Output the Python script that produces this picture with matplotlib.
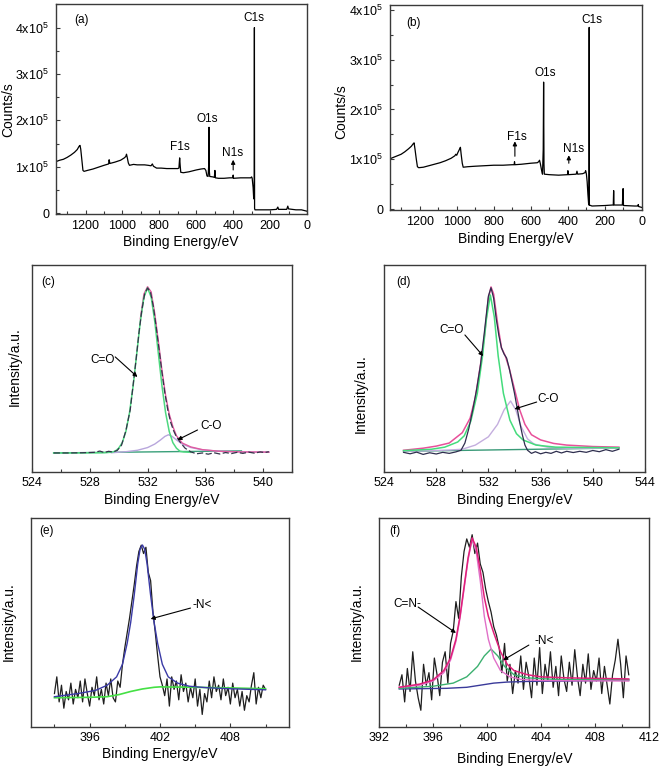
import numpy as np
import matplotlib
matplotlib.use("Agg")
import matplotlib.pyplot as plt
from matplotlib.ticker import MultipleLocator

plt.rcParams['font.family'] = ['Liberation Sans', 'DejaVu Sans']
plt.rcParams['mathtext.default'] = 'regular'

# ---------------- survey spectra (counts in units of 1e5) ----------------
surv_a_eV = [1360, 1340, 1320, 1300, 1280, 1260, 1245, 1235, 1230, 1226, 1220, 1214, 1208, 1190, 1160,
             1130, 1100, 1075, 1072, 1068, 1040, 1010, 990, 982, 978, 974, 968, 962, 940, 920, 900,
             880, 860, 845, 838, 832, 815, 790, 760, 730, 700, 694, 690, 687, 684, 670, 640, 600,
             575, 555, 548, 542, 536, 533, 531, 529, 527, 510, 502, 499, 496, 480, 450, 420, 402,
             400, 398, 360, 330, 305, 300, 297, 292, 289, 286, 285, 284, 282, 250, 200, 165, 158,
             154, 110, 104, 100, 60, 30, 10, 0]
surv_a_cnt = [1.11, 1.14, 1.16, 1.20, 1.25, 1.31, 1.37, 1.44, 1.46, 1.38, 1.15, 0.92, 0.90, 0.92, 0.95,
              0.99, 1.03, 1.06, 1.15, 1.07, 1.10, 1.14, 1.19, 1.22, 1.27, 1.20, 1.08, 1.03, 1.05, 1.04, 1.04,
              1.04, 1.03, 1.02, 1.06, 1.01, 0.97, 0.97, 0.96, 0.96, 0.96, 0.97, 1.19, 1.02, 0.88, 0.87, 0.89, 0.93,
              0.95, 0.96, 0.92, 0.80, 0.79, 1.00, 1.85, 0.90, 0.79, 0.78, 0.77, 0.92, 0.76, 0.75, 0.75, 0.76, 0.76,
              0.82, 0.75, 0.76, 0.76, 0.76, 0.78, 0.75, 0.55, 0.33, 0.30, 4.00, 0.10, 0.07, 0.07, 0.07, 0.08, 0.13,
              0.08, 0.08, 0.15, 0.09, 0.07, 0.07, 0.05, 0.04]

surv_b_eV = [1360, 1340, 1320, 1300, 1280, 1260, 1245, 1235, 1230, 1225, 1218, 1212, 1205, 1180, 1150,
             1120, 1090, 1060, 1030, 1010, 1005, 1000, 993, 985, 980, 976, 970, 965, 940, 900, 850,
             800, 750, 700, 690, 688, 686, 650, 600, 565, 558, 553, 548, 542, 537, 533, 531, 529,
             527, 500, 450, 402, 400, 398, 355, 351, 347, 320, 308, 304, 300, 296, 292, 288, 286,
             285, 284, 270, 200, 160, 155, 153, 151, 106, 102, 100, 40, 22, 20, 18, 0]
surv_b_cnt = [1.01, 1.04, 1.07, 1.10, 1.15, 1.21, 1.26, 1.31, 1.33, 1.20, 1.00, 0.85, 0.83, 0.84, 0.87,
              0.90, 0.93, 0.97, 1.02, 1.07, 1.10, 1.08, 1.14, 1.20, 1.24, 1.10, 0.92, 0.84, 0.85, 0.86, 0.87,
              0.88, 0.88, 0.89, 0.89, 0.95, 0.89, 0.90, 0.92, 0.93, 0.95, 0.98, 0.90, 0.78, 0.70, 1.20, 2.55, 0.90,
              0.70, 0.69, 0.68, 0.69, 0.77, 0.69, 0.70, 0.76, 0.70, 0.71, 0.73, 0.77, 0.70, 0.55, 0.30, 0.10, 0.08,
              3.65, 0.08, 0.06, 0.07, 0.08, 0.08, 0.37, 0.08, 0.08, 0.41, 0.07, 0.06, 0.06, 0.09, 0.05, 0.03]

survey_ticks = [0, 1, 2, 3, 4]
survey_ticklabels = ['0', '1x10$^5$', '2x10$^5$', '3x10$^5$', '4x10$^5$']

# ---------------- (c) O1s, sample 1 ----------------
c_data_x = [525.5, 526.5, 527.5, 528.3, 528.7, 529.0, 529.3, 529.6, 529.9, 530.2,
            530.5, 530.8, 531.0, 531.2, 531.4, 531.6, 531.8, 532.0, 532.2, 532.4,
            532.6, 532.8, 533.0, 533.2, 533.4, 533.6, 533.8, 534.0, 534.3, 534.6,
            535.0, 535.4, 535.8, 536.2, 536.6, 537.0, 537.4, 537.8, 538.2, 538.6,
            539.0, 539.4, 539.8, 540.1, 540.4]
c_data_y = [0.092, 0.092, 0.093, 0.095, 0.101, 0.094, 0.100, 0.097, 0.104, 0.13,
            0.20, 0.30, 0.42, 0.54, 0.67, 0.78, 0.86, 0.889, 0.87, 0.80,
            0.70, 0.59, 0.48, 0.38, 0.30, 0.24, 0.20, 0.17, 0.14, 0.115,
            0.097, 0.088, 0.092, 0.086, 0.093, 0.087, 0.094, 0.089, 0.095, 0.09,
            0.096, 0.091, 0.097, 0.094, 0.098]
c_co_x = [525.5, 529.0, 529.5, 529.75, 530.0, 530.25, 530.5, 530.75, 531.0, 531.25, 531.5, 531.75, 532.0,
          532.25, 532.5, 532.75, 533.0, 533.25, 533.5, 533.75, 534.0, 534.25, 534.5, 535.0]
c_co_y = [0.092, 0.093, 0.096, 0.100, 0.115, 0.142, 0.196, 0.286, 0.415, 0.571, 0.727, 0.845, 0.889,
          0.845, 0.727, 0.571, 0.415, 0.286, 0.196, 0.142, 0.115, 0.100, 0.097, 0.095]
c_c_o_x = [529.5, 530.5, 531.3, 532.0, 532.5, 532.9, 533.2, 533.45, 533.7, 534.0, 534.4, 535.0, 535.8, 537.0, 538.5, 540.4]
c_c_o_y = [0.093, 0.098, 0.105, 0.118, 0.135, 0.155, 0.172, 0.180, 0.172, 0.155, 0.135, 0.118, 0.107, 0.100, 0.097, 0.096]
c_env_x = [531.5, 531.75, 532.0, 532.25, 532.5, 532.75, 533.0, 533.25, 533.5, 533.75, 534.0, 534.4, 535.0, 535.8, 537.0, 538.5, 540.4]
c_env_y = [0.74, 0.86, 0.895, 0.87, 0.765, 0.63, 0.49, 0.37, 0.28, 0.22, 0.175, 0.14, 0.121, 0.108, 0.100, 0.097, 0.096]
c_base_x = [525.5, 538.5]
c_base_y = [0.092, 0.102]

# ---------------- (d) O1s, sample 2 ----------------
d_data_x = [525.5, 526.0, 526.5, 527.0, 527.5, 528.0, 528.5, 529.0, 529.5, 529.9,
            530.2, 530.5, 530.8, 531.1, 531.4, 531.7, 532.0, 532.2, 532.4, 532.6,
            532.8, 533.0, 533.2, 533.4, 533.6, 533.8, 534.0, 534.2, 534.4, 534.6,
            534.8, 535.0, 535.3, 535.6, 536.0, 536.4, 536.8, 537.2, 537.6, 538.0,
            538.5, 539.0, 539.5, 540.0, 540.5, 541.0, 541.5, 542.0]
d_data_y = [0.095, 0.088, 0.096, 0.085, 0.093, 0.087, 0.095, 0.090, 0.097, 0.105,
            0.14, 0.21, 0.30, 0.40, 0.52, 0.68, 0.85, 0.89, 0.84, 0.74,
            0.66, 0.60, 0.57, 0.55, 0.50, 0.44, 0.38, 0.31, 0.24, 0.18,
            0.13, 0.105, 0.090, 0.098, 0.088, 0.095, 0.090, 0.100, 0.092, 0.100,
            0.094, 0.100, 0.095, 0.104, 0.098, 0.108, 0.100, 0.110]
d_co_x = [525.5, 527.65, 528.65, 529.65, 530.15, 530.65, 531.15, 531.55, 531.85, 532.15,
          532.45, 532.75, 533.15, 533.65, 534.15, 534.65, 535.65, 537.15, 542.0]
d_co_y = [0.103, 0.110, 0.120, 0.145, 0.175, 0.245, 0.38, 0.56, 0.74, 0.855,
          0.75, 0.56, 0.38, 0.25, 0.185, 0.155, 0.13, 0.12, 0.117]
d_c_o_x = [525.5, 528.0, 529.0, 530.0, 531.0, 532.0, 532.7, 533.2, 533.7, 534.1, 534.5, 535.0, 535.5, 536.5, 538.0, 542.0]
d_c_o_y = [0.100, 0.104, 0.106, 0.110, 0.130, 0.170, 0.230, 0.300, 0.343, 0.300, 0.220, 0.160, 0.135, 0.120, 0.115, 0.115]
d_env_x = [525.5, 527.0, 528.0, 529.0, 530.0, 530.6, 531.0, 531.4, 531.7, 532.0, 532.2, 532.4, 532.7,
           533.0, 533.3, 533.6, 534.0, 534.4, 534.8, 535.3, 536.0, 537.0, 538.0, 540.0, 542.0]
d_env_y = [0.105, 0.115, 0.125, 0.140, 0.190, 0.260, 0.360, 0.520, 0.660, 0.840, 0.894, 0.860, 0.720,
           0.600, 0.560, 0.500, 0.400, 0.300, 0.230, 0.180, 0.155, 0.138, 0.130, 0.123, 0.120]
d_base_x = [525.5, 542.0]
d_base_y = [0.100, 0.116]

# ---------------- (e) N1s, sample 1 ----------------
e_range = (393.0, 411.0)
e_data_y = [0.16, 0.24, 0.12, 0.20, 0.09, 0.17, 0.13, 0.21, 0.11, 0.18,
            0.14, 0.22, 0.12, 0.23, 0.16, 0.10, 0.19, 0.15, 0.24, 0.13,
            0.18, 0.11, 0.21, 0.15, 0.23, 0.14, 0.12, 0.22, 0.19, 0.30,
            0.38, 0.45, 0.52, 0.60, 0.68, 0.77, 0.84, 0.87, 0.83, 0.86,
            0.74, 0.70, 0.55, 0.45, 0.34, 0.24, 0.20, 0.15, 0.23, 0.10,
            0.24, 0.18, 0.22, 0.13, 0.25, 0.17, 0.21, 0.12, 0.19, 0.14,
            0.23, 0.10, 0.18, 0.06, 0.16, 0.12, 0.22, 0.14, 0.24, 0.17,
            0.20, 0.13, 0.23, 0.15, 0.19, 0.11, 0.21, 0.14, 0.18, 0.10,
            0.17, 0.08, 0.15, 0.12, 0.20, 0.26, 0.11, 0.19, 0.14, 0.20, 0.18]
e_fit_x = [393.0, 395.0, 396.5, 397.5, 398.3, 398.8, 399.2, 399.5, 399.8, 400.1, 400.3, 400.5,
           400.7, 400.9, 401.2, 401.5, 401.8, 402.2, 402.7, 403.5, 404.5, 406.0, 408.0, 411.0]
e_fit_y = [0.145, 0.160, 0.175, 0.200, 0.240, 0.300, 0.400, 0.500, 0.630, 0.780, 0.850, 0.871,
           0.850, 0.780, 0.630, 0.500, 0.400, 0.300, 0.240, 0.210, 0.195, 0.188, 0.183, 0.178]
e_base_x = [393.0, 396.0, 397.5, 398.5, 399.5, 400.5, 401.5, 402.0, 405.0, 408.0, 411.0]
e_base_y = [0.140, 0.142, 0.145, 0.155, 0.170, 0.182, 0.190, 0.192, 0.190, 0.187, 0.183]

# ---------------- (f) N1s, sample 2 ----------------
f_range = (393.5, 410.5)
f_data_y = [0.20, 0.25, 0.12, 0.28, 0.17, 0.36, 0.22, 0.14, 0.08, 0.30,
            0.20, 0.26, 0.13, 0.33, 0.25, 0.15, 0.31, 0.36, 0.21, 0.40,
            0.46, 0.60, 0.52, 0.72, 0.84, 0.90, 0.86, 0.92, 0.83, 0.88,
            0.78, 0.74, 0.66, 0.60, 0.55, 0.48, 0.44, 0.38, 0.26, 0.40,
            0.22, 0.30, 0.16, 0.27, 0.21, 0.34, 0.18, 0.31, 0.24, 0.14,
            0.33, 0.20, 0.38, 0.16, 0.30, 0.22, 0.36, 0.19, 0.29, 0.15,
            0.34, 0.23, 0.17, 0.31, 0.20, 0.37, 0.24, 0.15, 0.30, 0.21,
            0.35, 0.18, 0.27, 0.22, 0.33, 0.16, 0.29, 0.20, 0.11, 0.25,
            0.32, 0.42, 0.30, 0.14, 0.34, 0.25]
f_cn_x = [393.5, 395.0, 396.0, 396.8, 397.3, 397.7, 398.0, 398.3, 398.6, 398.9, 399.2, 399.5,
          399.8, 400.1, 400.5, 401.0, 401.7, 402.5, 404.0, 410.5]
f_cn_y = [0.190, 0.200, 0.220, 0.260, 0.320, 0.410, 0.520, 0.660, 0.800, 0.900, 0.840, 0.700,
          0.530, 0.420, 0.330, 0.270, 0.240, 0.228, 0.222, 0.220]
f_env_x = [393.5, 395.0, 396.0, 396.8, 397.3, 397.7, 398.0, 398.3, 398.6, 398.9, 399.2, 399.5,
           399.8, 400.1, 400.5, 401.0, 401.5, 402.0, 403.0, 404.0, 406.0, 410.5]
f_env_y = [0.190, 0.205, 0.225, 0.270, 0.330, 0.420, 0.530, 0.670, 0.810, 0.905, 0.860, 0.750,
           0.620, 0.530, 0.450, 0.360, 0.300, 0.270, 0.250, 0.240, 0.235, 0.230]
f_n_x = [393.5, 396.0, 397.5, 398.5, 399.3, 399.8, 400.3, 400.8, 401.3, 402.0, 403.0, 405.0, 410.5]
f_n_y = [0.185, 0.195, 0.210, 0.240, 0.290, 0.340, 0.373, 0.340, 0.290, 0.250, 0.235, 0.228, 0.225]
f_base_x = [393.5, 397.0, 398.5, 399.5, 400.5, 401.5, 403.0, 406.0, 410.5]
f_base_y = [0.182, 0.185, 0.190, 0.200, 0.210, 0.215, 0.218, 0.220, 0.225]

# ---------------- figure ----------------
W, H = 661, 768
fig = plt.figure(figsize=(W / 100, H / 100), dpi=100)


def add_ax(left, right, top, bottom):
    return fig.add_axes([left / W, 1 - bottom / H, (right - left) / W, (bottom - top) / H])


def style(ax, xpad=3.5):
    for s in ax.spines.values():
        s.set_linewidth(1.0)
        s.set_color('#3a3a3a')
    ax.tick_params(which='both', direction='in', top=False, right=False, labelsize=9,
                   color='#3a3a3a', width=0.8)
    ax.tick_params(axis='x', which='both', pad=xpad)
    ax.tick_params(axis='y', which='both', pad=5)
    ax.tick_params(which='major', length=3)
    ax.tick_params(which='minor', length=2)


def ftext(x, y, s, size=10, rot=0):
    fig.text(x / W, 1 - y / H, s, fontsize=size, rotation=rot, ha='center', va='center')


arrow_kw = dict(arrowstyle='-|>', color='black', lw=0.8, mutation_scale=6, shrinkA=0, shrinkB=0)
LS = 8.5

# (a)
ax = add_ax(56, 307, 4, 214)
style(ax, xpad=4)
ax.plot(surv_a_eV, surv_a_cnt, color='black', lw=0.9)
ax.set_xlim(1360, 0)
ax.set_ylim(-0.02, 4.51)
ax.xaxis.set_major_locator(MultipleLocator(200))
ax.xaxis.set_minor_locator(MultipleLocator(100))
ax.set_yticks(survey_ticks)
ax.set_yticklabels(survey_ticklabels)
ax.yaxis.set_minor_locator(MultipleLocator(0.5))
ax.text(1221, 4.17, '(a)', fontsize=LS, ha='center', va='center')
ax.text(289, 4.21, 'C1s', fontsize=LS, ha='center', va='center')
ax.text(540, 2.03, 'O1s', fontsize=LS, ha='center', va='center')
ax.text(687, 1.43, 'F1s', fontsize=LS, ha='center', va='center')
ax.text(403, 1.30, 'N1s', fontsize=LS, ha='center', va='center')
ax.annotate('', xy=(400, 1.15), xytext=(400, 0.93), arrowprops=arrow_kw)
ftext(8, 110, 'Counts/s', rot=90)
ftext(181, 242, 'Binding Energy/eV')

# (b)
ax = add_ax(390, 642, 5, 210)
style(ax, xpad=4)
ax.plot(surv_b_eV, surv_b_cnt, color='black', lw=0.9)
ax.set_xlim(1360, 0)
ax.set_ylim(-0.02, 4.1)
ax.xaxis.set_major_locator(MultipleLocator(200))
ax.xaxis.set_minor_locator(MultipleLocator(100))
ax.set_yticks(survey_ticks)
ax.set_yticklabels(survey_ticklabels)
ax.yaxis.set_minor_locator(MultipleLocator(0.5))
ax.text(1232, 3.74, '(b)', fontsize=LS, ha='center', va='center')
ax.text(272, 3.80, 'C1s', fontsize=LS, ha='center', va='center')
ax.text(524, 2.74, 'O1s', fontsize=LS, ha='center', va='center')
ax.text(676, 1.44, 'F1s', fontsize=LS, ha='center', va='center')
ax.text(368, 1.20, 'N1s', fontsize=LS, ha='center', va='center')
ax.annotate('', xy=(686, 1.36), xytext=(686, 1.06), arrowprops=arrow_kw)
ax.annotate('', xy=(395, 1.08), xytext=(395, 0.92), arrowprops=arrow_kw)
ftext(341, 112, 'Counts/s', rot=90)
ftext(516, 239, 'Binding Energy/eV')

# (c)
ax = add_ax(32, 292, 265, 472)
style(ax)
ax.plot(c_base_x, c_base_y, color='#3aa07a', lw=1.0)
ax.plot(c_c_o_x, c_c_o_y, color='#b8a6dc', lw=1.0)
ax.plot(c_env_x, c_env_y, color='#e05aa0', lw=1.0)
ax.plot(c_co_x, c_co_y, color='#4ed880', lw=1.1)
ax.plot(c_data_x, c_data_y, color='#33334a', lw=0.9, ls=(0, (5, 2)))
ax.set_xlim(524, 542)
ax.set_ylim(0, 1)
ax.xaxis.set_major_locator(MultipleLocator(4))
ax.xaxis.set_minor_locator(MultipleLocator(2))
ax.set_yticks([])
ax.text(525.1, 0.918, '(c)', fontsize=LS, ha='center', va='center')
ax.text(528.9, 0.541, 'C=O', fontsize=LS, ha='center', va='center')
ax.annotate('', xy=(531.3, 0.459), xytext=(529.76, 0.556), arrowprops=arrow_kw)
ax.text(536.4, 0.222, 'C-O', fontsize=LS, ha='center', va='center')
ax.annotate('', xy=(534.07, 0.155), xytext=(535.46, 0.203), arrowprops=arrow_kw)
ftext(15, 367, 'Intensity/a.u.', rot=90)
ftext(162, 500, 'Binding Energy/eV')

# (d)
ax = add_ax(384, 645, 265, 472)
style(ax)
ax.plot(d_base_x, d_base_y, color='#3a9a78', lw=1.0)
ax.plot(d_c_o_x, d_c_o_y, color='#c4aede', lw=1.0)
ax.plot(d_env_x, d_env_y, color='#e8509a', lw=1.1)
ax.plot(d_co_x, d_co_y, color='#44dc7c', lw=1.1)
ax.plot(d_data_x, d_data_y, color='#2e2e4e', lw=0.9)
ax.set_xlim(524, 544)
ax.set_ylim(0, 1)
ax.xaxis.set_major_locator(MultipleLocator(4))
ax.xaxis.set_minor_locator(MultipleLocator(2))
ax.set_yticks([])
ax.text(525.46, 0.918, '(d)', fontsize=LS, ha='center', va='center')
ax.text(529.2, 0.686, 'C=O', fontsize=LS, ha='center', va='center')
ax.annotate('', xy=(531.6, 0.56), xytext=(530.2, 0.662), arrowprops=arrow_kw)
ax.text(536.6, 0.353, 'C-O', fontsize=LS, ha='center', va='center')
ax.annotate('', xy=(534.0, 0.304), xytext=(535.7, 0.338), arrowprops=arrow_kw)
ftext(361, 394, 'Intensity/a.u.', rot=90)
ftext(515, 500, 'Binding Energy/eV')

# (e)
ax = add_ax(31, 289, 518, 727)
style(ax, xpad=3.5)
e_x = np.linspace(e_range[0], e_range[1], len(e_data_y))
ax.plot(e_x, e_data_y, color='#1e1e1e', lw=0.9)
ax.plot(e_base_x, e_base_y, color='#44e044', lw=1.2)
ax.plot(e_fit_x, e_fit_y, color='#3a3aa6', lw=1.0)
ax.set_xlim(391, 413)
ax.set_ylim(0, 1)
ax.xaxis.set_major_locator(MultipleLocator(6))
ax.xaxis.set_minor_locator(MultipleLocator(3))
ax.set_yticks([])
ax.text(392.35, 0.938, '(e)', fontsize=LS, ha='center', va='center')
ax.text(405.6, 0.584, '-N<', fontsize=LS, ha='center', va='center')
ax.annotate('', xy=(401.2, 0.517), xytext=(404.6, 0.569), arrowprops=arrow_kw)
ftext(9, 622, 'Intensity/a.u.', rot=90)
ftext(160, 754, 'Binding Energy/eV')

# (f)
ax = add_ax(379, 649, 518, 727)
style(ax)
f_x = np.linspace(f_range[0], f_range[1], len(f_data_y))
ax.plot(f_x, f_data_y, color='#1e1e1e', lw=0.9)
ax.plot(f_base_x, f_base_y, color='#3a3a9a', lw=1.0)
ax.plot(f_n_x, f_n_y, color='#3cb070', lw=1.0)
ax.plot(f_cn_x, f_cn_y, color='#e070c8', lw=1.0)
ax.plot(f_env_x, f_env_y, color='#e0207a', lw=1.1)
ax.set_xlim(392, 412)
ax.set_ylim(0, 1)
ax.xaxis.set_major_locator(MultipleLocator(4))
ax.xaxis.set_minor_locator(MultipleLocator(2))
ax.set_yticks([])
ax.text(393.2, 0.938, '(f)', fontsize=LS, ha='center', va='center')
ax.text(394.1, 0.589, 'C=N-', fontsize=LS, ha='center', va='center')
ax.annotate('', xy=(397.7, 0.45), xytext=(394.9, 0.574), arrowprops=arrow_kw)
ax.text(404.2, 0.411, '-N<', fontsize=LS, ha='center', va='center')
ax.annotate('', xy=(401.2, 0.32), xytext=(403.1, 0.392), arrowprops=arrow_kw)
ftext(357, 622, 'Intensity/a.u.', rot=90)
ftext(515, 759, 'Binding Energy/eV')

fig.savefig('out.png', dpi=100)
